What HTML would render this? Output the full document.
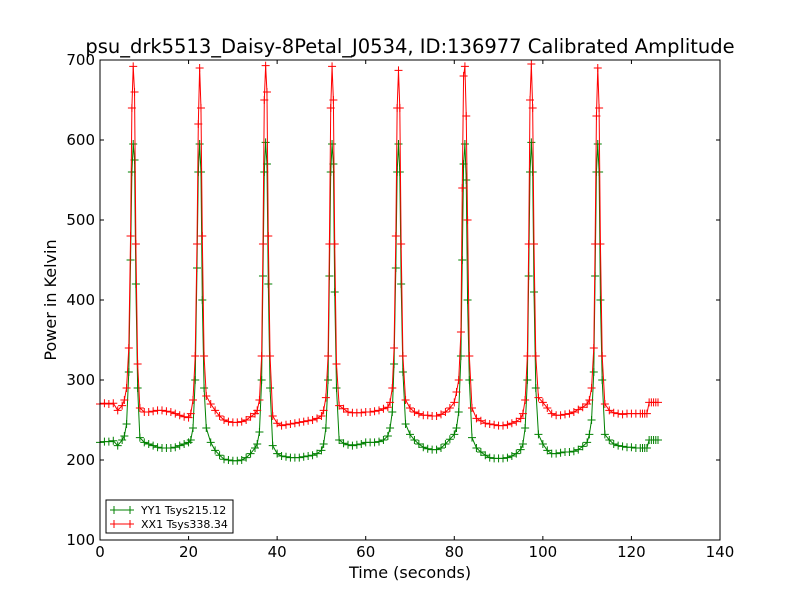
<!DOCTYPE html>
<html><head><meta charset="utf-8"><style>
body{margin:0;background:#fff;}
svg{display:block;font-family:"DejaVu Sans","Liberation Sans",sans-serif;}
</style></head><body>
<svg id="chart" width="800" height="600" viewBox="0 0 800 600" xmlns="http://www.w3.org/2000/svg">
<rect width="800" height="600" fill="#fff"/>
<text x="410" y="53" font-size="19.5" text-anchor="middle">psu_drk5513_Daisy-8Petal_J0534, ID:136977 Calibrated Amplitude</text>
<g id="plot"></g>
<rect x="100" y="60" width="620" height="480" fill="none" stroke="#000" stroke-width="1"/>
<g id="axes"></g>
<text x="410" y="578" font-size="16" text-anchor="middle">Time (seconds)</text>
<text transform="translate(56,300) rotate(-90)" font-size="16" text-anchor="middle">Power in Kelvin</text>
<g>
<rect x="106" y="500" width="127" height="33" fill="#fff" stroke="#000" stroke-width="1"/>
<g>
<line x1="110" y1="510" x2="134" y2="510" stroke="#008000"/><line x1="114" y1="506" x2="114" y2="514" stroke="#008000"/><line x1="130" y1="506" x2="130" y2="514" stroke="#008000"/>
<text x="141" y="514" font-size="11">YY1 Tsys215.12</text></g>
<g>
<line x1="110" y1="524" x2="134" y2="524" stroke="#ff0000"/><line x1="114" y1="520" x2="114" y2="528" stroke="#ff0000"/><line x1="130" y1="520" x2="130" y2="528" stroke="#ff0000"/>
<text x="141" y="528" font-size="11">XX1 Tsys338.34</text></g>
</g>
</svg>
<script>
const times=[0,1,2,3,4,5,
5.5,6,6.5,6.9,7.2,7.5,7.8,8.1,8.5,9,
10,11,12,13,14,15,16,17,18,19,20,
20.5,21,21.5,21.9,22.2,22.5,22.8,23.1,23.5,24,
25,26,27,28,29,30,31,32,33,34,35,
35.5,36,36.5,36.8,37.1,37.4,37.7,38,38.4,39,
40,41,42,43,44,45,46,47,48,49,50,
50.5,51,51.5,51.8,52.1,52.4,52.7,53,53.4,54,
55,56,57,58,59,60,61,62,63,64,65,
65.5,66,66.4,66.8,67.1,67.4,67.7,68,68.4,69,
70,71,72,73,74,75,76,77,78,79,80,
80.5,81,81.5,81.8,82.1,82.4,82.7,83,83.4,84,
85,86,87,88,89,90,91,92,93,94,95,
95.5,96,96.5,96.8,97.1,97.4,97.7,98,98.4,99,
100,101,102,103,104,105,106,107,108,109,110,
110.5,111,111.5,111.8,112.1,112.4,112.7,113,113.4,114,
115,116,117,118,119,120,121,122,
122.5,123,123.5,124,124.5,125,125.5,126];
const xx1=[270,271,270,271,262,268,
275,290,340,480,640,692,660,470,320,265,
260,260,261,262,262,261,260,258,256,254,253,
258,275,330,470,620,690,640,480,330,280,
270,262,255,250,248,247,247,248,250,254,258,
262,275,330,470,650,693,660,480,330,255,
246,243,244,245,246,247,248,249,250,252,255,
262,278,330,470,640,692,650,470,320,268,
264,260,259,259,259,260,260,261,262,264,266,
272,290,340,480,640,687,640,470,330,275,
265,260,258,256,256,255,255,257,260,265,272,
285,300,360,540,680,692,630,500,330,265,
252,249,246,245,244,243,243,244,246,248,252,
258,275,330,470,650,695,640,470,330,278,
272,265,258,256,256,257,258,260,263,266,270,
275,290,340,470,630,690,640,470,330,270,
262,259,258,257,258,258,258,258,
258,258,258,272,272,272,272,272];
const yy1=[222,223,223,224,218,225,
230,245,310,450,560,595,575,420,290,228,
222,220,218,216,215,215,215,216,218,220,222,
225,240,300,440,560,595,560,400,290,240,
222,212,206,201,200,199,199,200,203,208,215,
220,235,300,430,560,597,570,420,290,218,
208,205,204,203,203,203,204,205,206,208,212,
220,240,300,430,560,595,570,410,290,225,
221,219,218,219,220,222,222,222,223,225,230,
240,260,320,440,560,595,560,420,310,245,
232,225,220,216,214,213,213,215,220,226,232,
240,260,330,450,570,595,550,400,300,228,
215,210,206,203,202,202,202,203,205,208,213,
220,240,300,430,560,597,560,410,290,232,
220,212,208,208,209,210,210,211,213,217,222,
232,250,310,430,560,595,560,400,300,232,
225,220,218,217,216,216,215,215,
215,215,215,225,225,225,225,225];
const xTicks=[0,20,40,60,80,100,120,140];
const yTicks=[100,200,300,400,500,600,700];

const NS="http://www.w3.org/2000/svg";
const xs=v=>100+(v-0)/140*620;
const ys=v=>540-(v-100)/600*480;
const plot=document.getElementById('plot');
const axes=document.getElementById('axes');
function mk(tag,attrs,parent){const e=document.createElementNS(NS,tag);for(const k in attrs)e.setAttribute(k,attrs[k]);parent.appendChild(e);return e;}

function series(vals,color,name){
  const g=mk('g',{},plot);
  
  
  const pts=times.map((t,i)=>xs(t).toFixed(2)+','+ys(vals[i]).toFixed(2)).join(' ');
  const line=mk('polyline',{points:pts,fill:'none',stroke:color,'stroke-width':1},g);
  
  
  let d='';
  times.forEach((t,i)=>{const x=xs(t),y=ys(vals[i]);d+=`M${(x-4).toFixed(2)} ${y.toFixed(2)}h8M${x.toFixed(2)} ${(y-4).toFixed(2)}v8`;});
  const m=mk('path',{d:d,stroke:color,'stroke-width':1,fill:'none'},g);
  
  
}
series(yy1,'#008000','series-yy1');
series(xx1,'#ff0000','series-xx1');

xTicks.forEach(v=>{
  const x=xs(v);
  mk('line',{x1:x,y1:540,x2:x,y2:536,stroke:'#000'},axes);
  mk('line',{x1:x,y1:60,x2:x,y2:64,stroke:'#000'},axes);
  const t=mk('text',{x:x,y:557,'font-size':15,'text-anchor':'middle'},axes);
  t.textContent=v;
  
  
});
yTicks.forEach(v=>{
  const y=ys(v);
  mk('line',{x1:100,y1:y,x2:104,y2:y,stroke:'#000'},axes);
  mk('line',{x1:720,y1:y,x2:716,y2:y,stroke:'#000'},axes);
  const t=mk('text',{x:95,y:y+5,'font-size':15,'text-anchor':'end'},axes);
  t.textContent=v;
  
  
});
</script>
</body></html>
